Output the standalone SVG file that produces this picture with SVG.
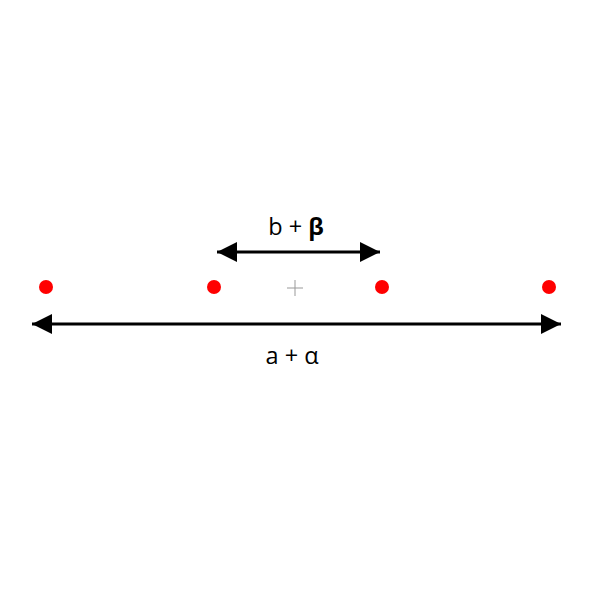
<svg xmlns="http://www.w3.org/2000/svg" width="600" height="600" viewBox="0 0 600 600">
<style>
.lbl{font-family:"Open Sans","Liberation Sans",sans-serif;font-size:23.5px;fill:#000;text-anchor:middle}
.dot{fill:#ff0000}
.ln{stroke:#000;stroke-width:3;fill:none}
</style>
<defs>
<marker id="ah" viewBox="0 0 20 20" refX="20" refY="10" markerWidth="20" markerHeight="20" markerUnits="userSpaceOnUse" orient="auto-start-reverse">
<path d="M0,0 L20,10 L0,20 Z" fill="#000"/>
</marker>
</defs>
<rect width="600" height="600" fill="#fff"/>
<g id="connectors">
<line class="ln" x1="217" y1="252" x2="380" y2="252" marker-start="url(#ah)" marker-end="url(#ah)"/>
<line class="ln" x1="32" y1="324" x2="561" y2="324" marker-start="url(#ah)" marker-end="url(#ah)"/>
</g>
<g id="dot1"><circle class="dot" cx="46" cy="287" r="7"/></g>
<g id="dot2"><circle class="dot" cx="214" cy="287" r="7"/></g>
<g id="dot3"><circle class="dot" cx="382" cy="287" r="7"/></g>
<g id="dot4"><circle class="dot" cx="549" cy="287" r="7"/></g>
<g id="center"><path d="M287,288 H303 M295,280 V296" stroke="#999" stroke-width="1"/></g>
<g id="label-b"><text class="lbl" x="296" y="235">b + <tspan font-weight="bold">β</tspan></text></g>
<g id="label-a"><text class="lbl" x="292" y="364">a + α</text></g>
</svg>
